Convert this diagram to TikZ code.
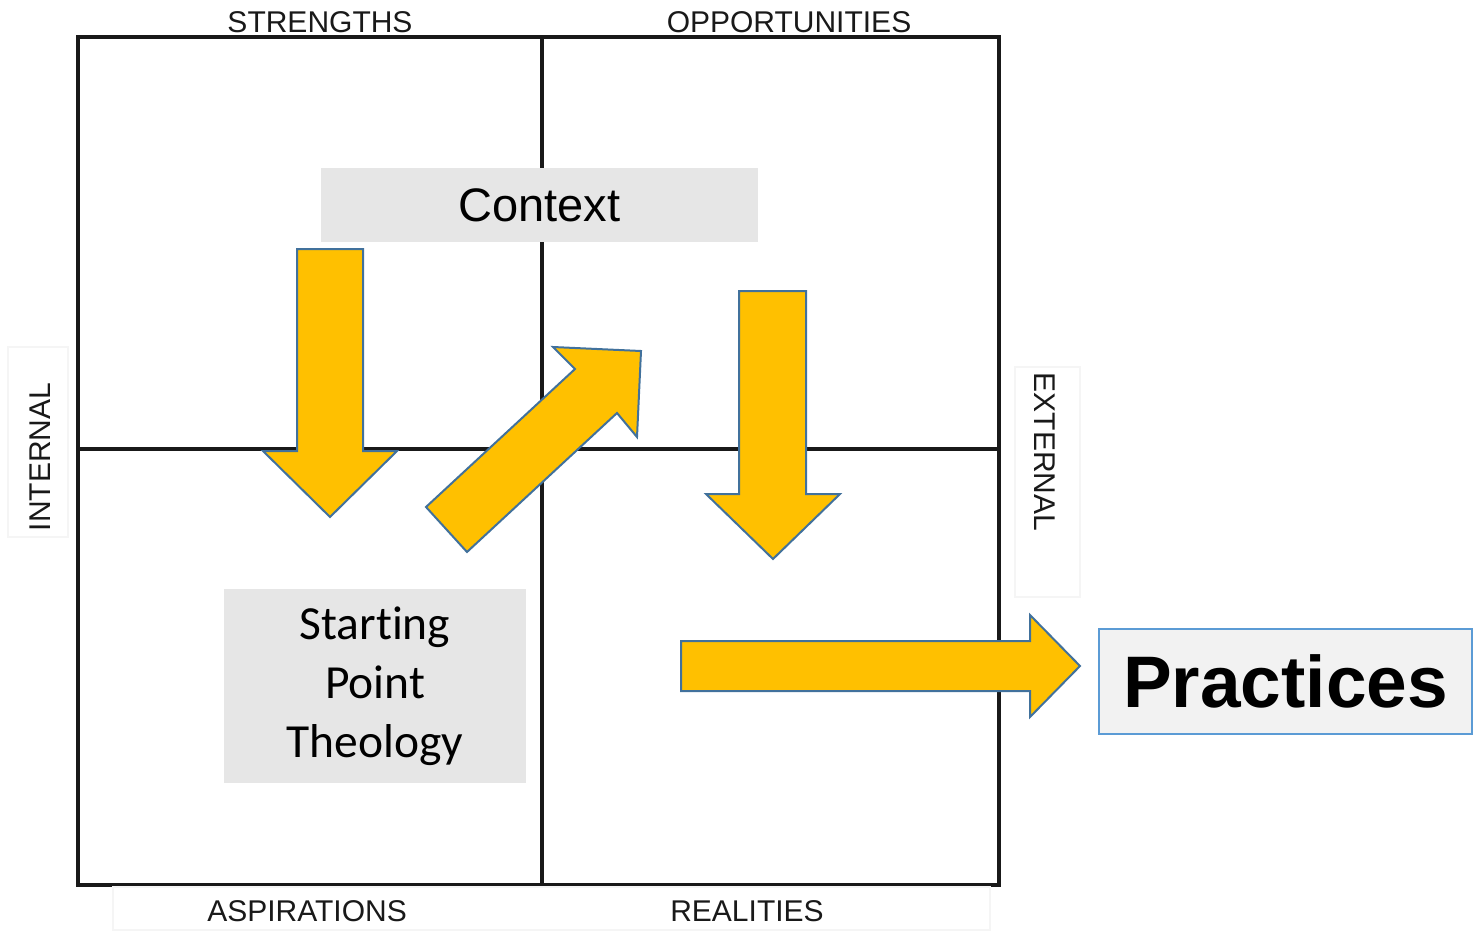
\documentclass[tikz,border=0pt]{standalone}
\usepackage{fontspec}
\setmainfont{Carlito}[Ligatures=NoCommon]
\newfontfamily\arialfont{Liberation Sans}
\usetikzlibrary{positioning}
\definecolor{arrowyellow}{HTML}{FFC000}
\definecolor{arrowedge}{HTML}{41719C}
\definecolor{boxgray}{HTML}{E6E6E6}
\definecolor{lightfill}{HTML}{F2F2F2}
\definecolor{edgeblue}{HTML}{5B9BD5}
\tikzset{
    gridline/.style = {draw=black!90, line width=1.8pt, line cap=rect},
    faintbox/.style = {draw=black!4, line width=0.6pt},
    labelnode/.style = {draw=none, fill=none, inner sep=0pt, text=black!90,
      font=\arialfont\fontsize{15}{17}\selectfont},
    graybox/.style = {draw=none, fill=boxgray, rectangle, inner sep=0pt, align=center,
      font=\fontsize{23.75}{29.5}\selectfont},
    resultnode/.style = {draw=edgeblue, line width=1pt, fill=lightfill, rectangle, inner sep=0pt,
      font=\arialfont\bfseries\fontsize{36.5}{40}\selectfont},
    blockarrow/.style = {fill=arrowyellow, draw=arrowedge, line width=1pt, line join=miter}
}

\begin{document}
\begin{tikzpicture}[x=0.5pt, y=-0.5pt]
    \useasboundingbox (0,0) rectangle (1478,931);
    % four quadrants
    \draw[gridline] (78,37) rectangle (999,885);
    \draw[gridline] (542,37) -- (542,885);
    \draw[gridline] (78,449) -- (999,449);
    % faint frames round the side labels
    \draw[faintbox] (8,347) rectangle (68,537);
    \draw[faintbox] (1015,367) rectangle (1080,597);
    \draw[faintbox] (113,887) rectangle (990,930);
    \node[labelnode, name=S] at (320,22) {STRENGTHS};
    \node[labelnode, name=O] at (789,22) {OPPORTUNITIES};
    \node[labelnode, name=A] at (307,911) {ASPIRATIONS};
    \node[labelnode, name=R] at (747,911) {REALITIES};
    \node[labelnode, name=I, rotate=90] at (40,457) {INTERNAL};
    \node[labelnode, name=E, rotate=-90] at (1045,452) {EXTERNAL};
    % text boxes
    \node[graybox, name=C, minimum width=218.5pt, minimum height=37pt,
      font=\arialfont\fontsize{23.5}{28}\selectfont] at (539.5,205) {Context};
    \node[graybox, name=T, minimum width=151pt, minimum height=97pt] at (375,686)
      {Starting\\Point\\Theology};
    \node[resultnode, name=P, minimum width=186.5pt, minimum height=52.5pt] at (1285.5,681.5) {Practices};
    % block arrows
    \draw[blockarrow] (297,249) -- (363,249) -- (363,451) -- (397,451) -- (330,517)
      -- (263,451) -- (297,451) -- cycle;
    \draw[blockarrow] (426,507) -- (575,369) -- (553,347) -- (641,351) -- (637,437)
      -- (617,413) -- (467,552) -- cycle;
    \draw[blockarrow] (739,291) -- (806,291) -- (806,494) -- (840,494) -- (773,559)
      -- (706,494) -- (739,494) -- cycle;
    \draw[blockarrow] (681,641) -- (1030,641) -- (1030,615) -- (1080,666) -- (1030,717)
      -- (1030,691) -- (681,691) -- cycle;
\end{tikzpicture}
\end{document}
